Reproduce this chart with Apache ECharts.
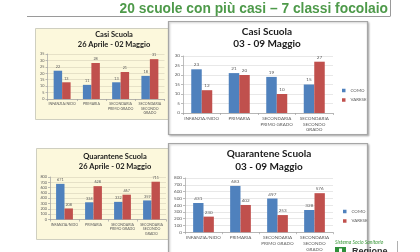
<!DOCTYPE html>
<html><head><meta charset="utf-8">
<script src="https://cdn.jsdelivr.net/npm/echarts@6/dist/echarts.min.js"></script>
<style>html,body{margin:0;padding:0;background:#fff}#c{width:420px;height:252px}</style>
</head><body><div id="c"></div>
<script>
const categories = ['INFANZIA/NIDO', 'PRIMARIA', 'SECONDARIA\nPRIMO GRADO', 'SECONDARIA\nSECONDO\nGRADO'];
const casiPrevComo = [22, 11, 13, 18];
const casiPrevVarese = [13, 28, 21, 31];
const casiComo = [23, 21, 19, 15];
const casiVarese = [12, 20, 10, 27];
const quarPrevComo = [671, 324, 332, 359];
const quarPrevVarese = [208, 628, 467, 711];
const quarComo = [431, 683, 497, 328];
const quarVarese = [230, 402, 253, 576];
const casiPrevTicks = {max: 35, interval: 5};
const casiTicks = {max: 30, interval: 5};
const quarTicks = {max: 800, interval: 100};

const BLUE = '#4f81bd', RED = '#c0504d';
const FONT = 'Lato, "Liberation Sans", sans-serif';
const chart = echarts.init(document.getElementById('c'), null, {renderer: 'canvas'});

const grids = [
  {left: 47.5, top: 54, width: 117, height: 45},
  {left: 183, top: 56, width: 150, height: 57},
  {left: 50, top: 177, width: 116, height: 42.5},
  {left: 185, top: 178, width: 148, height: 56}
];
const small = [true, false, true, false];
const ticks = [casiPrevTicks, casiTicks, quarTicks, quarTicks];

const xAxes = grids.map((g, i) => ({
  type: 'category', gridIndex: i, data: categories,
  axisLine: {lineStyle: {color: '#a0a0a0', width: 0.7}},
  axisTick: {show: true, length: 2, lineStyle: {color: '#a0a0a0', width: 0.7}},
  axisLabel: {interval: 0, fontSize: small[i] ? 3.6 : 4.6, color: '#595959', margin: 3,
    lineHeight: small[i] ? 4.5 : 5.6, fontFamily: FONT}
}));
const yAxes = grids.map((g, i) => ({
  type: 'value', gridIndex: i, min: 0, max: ticks[i].max, interval: ticks[i].interval,
  axisLine: {show: true, lineStyle: {color: '#a0a0a0', width: 0.7}},
  axisTick: {show: true, length: 2, lineStyle: {color: '#a0a0a0', width: 0.7}},
  splitLine: {lineStyle: {color: small[i] ? '#d6d2b8' : '#d9d9d9', width: 0.6}},
  axisLabel: {fontSize: small[i] ? 3.8 : 4.6, color: '#595959', margin: 3, fontFamily: FONT}
}));

function bars(name, data, idx, color) {
  return {
    name: name, type: 'bar', xAxisIndex: idx, yAxisIndex: idx, data: data,
    barGap: '0%', barCategoryGap: small[idx] ? '42%' : '44%',
    itemStyle: {color: color},
    label: {show: true, position: 'top', distance: 2, fontSize: small[idx] ? 3.8 : 4.6,
      color: '#595959', fontFamily: FONT}
  };
}

function mkTitle(text, x, top, size, lh) {
  return {text: text, left: x, top: top, textAlign: 'center', padding: 0,
    textStyle: {fontSize: size, fontWeight: 'bold', color: '#1a1a1a', lineHeight: lh,
      fontFamily: FONT}};
}

const legendStyle = {orient: 'vertical', itemWidth: 3.5, itemHeight: 3.5, itemGap: 5.5, padding: 0,
  icon: 'rect', textStyle: {fontSize: 4.4, color: '#595959', fontFamily: FONT}};

chart.setOption({
  animation: false,
  title: [
    mkTitle('Casi Scuola\n26 Aprile - 02 Maggio', 114, 30, 7.5, 10),
    mkTitle('Casi Scuola\n03 - 09 Maggio', 267, 25.5, 10, 12.5),
    mkTitle('Quarantene Scuola\n26 Aprile - 02 Maggio', 115, 151.5, 7.5, 10),
    mkTitle('Quarantene Scuola\n03 - 09 Maggio', 269, 148, 10, 12.5)
  ],
  legend: [
    Object.assign({data: ['COMO', 'VARESE'], left: 342, top: 88.5}, legendStyle),
    Object.assign({data: ['COMO', 'VARESE'], left: 343, top: 209.5}, legendStyle)
  ],
  grid: grids,
  xAxis: xAxes,
  yAxis: yAxes,
  series: [
    bars('COMO', casiPrevComo, 0, BLUE), bars('VARESE', casiPrevVarese, 0, RED),
    bars('COMO', casiComo, 1, BLUE), bars('VARESE', casiVarese, 1, RED),
    bars('COMO', quarPrevComo, 2, BLUE), bars('VARESE', quarPrevVarese, 2, RED),
    bars('COMO', quarComo, 3, BLUE), bars('VARESE', quarVarese, 3, RED)
  ],
  graphic: [
    {type: 'rect', z: -10, shape: {x: 35.5, y: 28.5, width: 140, height: 91}, style: {fill: '#fcf8dc', stroke: '#cfcfc0', lineWidth: 1}},
    {type: 'rect', z: -10, shape: {x: 36.5, y: 148.5, width: 140, height: 91}, style: {fill: '#fcf8dc', stroke: '#cfcfc0', lineWidth: 1}},
    {type: 'rect', z: -9, shape: {x: 168.5, y: 21.5, width: 199, height: 113}, style: {fill: '#ffffff', stroke: '#a6a6a6', lineWidth: 1.2, shadowBlur: 2, shadowColor: 'rgba(0,0,0,0.25)', shadowOffsetX: 1, shadowOffsetY: 1}},
    {type: 'rect', z: -9, shape: {x: 168.5, y: 143.5, width: 199, height: 115}, style: {fill: '#ffffff', stroke: '#a6a6a6', lineWidth: 1.2, shadowBlur: 2, shadowColor: 'rgba(0,0,0,0.25)', shadowOffsetX: 1, shadowOffsetY: 1}},
    {type: 'line', shape: {x1: 27, y1: 16.5, x2: 390, y2: 16.5}, style: {stroke: '#9a9a9a', lineWidth: 1}},
    {type: 'line', shape: {x1: 390.5, y1: 0, x2: 390.5, y2: 16.5}, style: {stroke: '#9a9a9a', lineWidth: 1}},
    {type: 'text', x: 388, y: 9.5, style: {text: '20 scuole con più casi – 7 classi focolaio', textAlign: 'right', textVerticalAlign: 'middle', fontSize: 13.8, fontWeight: 'bold', fill: '#4e9a4a', fontFamily: '"Liberation Sans", Arial, sans-serif'}},
    {type: 'text', x: 335, y: 242.5, style: {text: 'Sistema Socio Sanitario', textVerticalAlign: 'middle', fontSize: 5, fontStyle: 'italic', fill: '#3c9a3c', fontFamily: FONT}},
    {type: 'rect', shape: {x: 335, y: 247, width: 11, height: 8}, style: {fill: '#2f8f3a'}},
    {type: 'rect', shape: {x: 339, y: 248.5, width: 3, height: 4}, style: {fill: '#ffffff'}},
    {type: 'text', x: 352, y: 252, style: {text: 'Regione', textVerticalAlign: 'middle', fontSize: 9, fontWeight: 'bold', fill: '#333333', fontFamily: '"Liberation Sans", Arial, sans-serif'}},
    {type: 'line', shape: {x1: 397.5, y1: 241, x2: 397.5, y2: 252}, style: {stroke: '#b0b0b0', lineWidth: 1}}
  ]
});
</script></body></html>
